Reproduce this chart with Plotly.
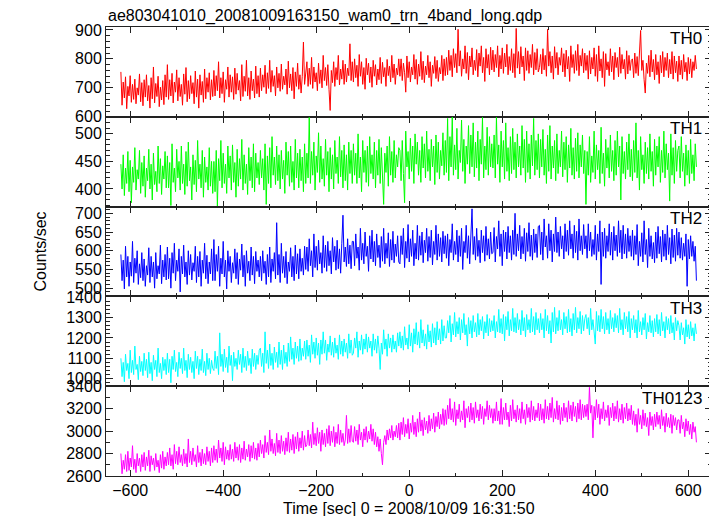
import numpy as np
import plotly.graph_objects as go

title = "ae803041010_20081009163150_wam0_trn_4band_long.qdp"
x_title = "Time [sec] 0 = 2008/10/09 16:31:50"
y_title = "Counts/sec"
band_names = ["TH0", "TH1", "TH2", "TH3", "TH0123"]
band_colors = ["#ff0000", "#00ff00", "#0000ff", "#00ffff", "#ff00ff"]
time_start, time_step = -620, 2.5

th0 = [
    755, 640, 720, 665, 738, 628, 705, 672, 742, 650, 712, 660, 730, 645, 700, 675, 748, 652, 718, 638,
    728, 668, 745, 655, 708, 630, 735, 662, 772, 648, 715, 670, 740, 635, 702, 658, 725, 642, 745, 668,
    780, 660, 728, 672, 750, 648, 720, 685, 762, 655, 735, 670, 712, 640, 748, 678, 770, 652, 725, 662,
    742, 680, 718, 645, 758, 668, 730, 630, 745, 675, 722, 650, 765, 662, 735, 685, 752, 658, 728, 670,
    760, 672, 742, 690, 790, 665, 735, 680, 755, 650, 728, 695, 772, 668, 745, 685, 738, 660, 768, 678,
    750, 692, 725, 655, 780, 670, 740, 688, 795, 672, 735, 660, 758, 690, 730, 665, 775, 680, 742, 668,
    768, 690, 745, 702, 778, 680, 752, 698, 795, 685, 760, 705, 742, 672, 772, 700, 750, 688, 782, 695,
    740, 710, 765, 678, 792, 700, 748, 690, 770, 662, 755, 705, 785, 695, 745, 682, 740, 858, 712, 768,
    790, 705, 768, 712, 805, 698, 772, 720, 752, 690, 785, 715, 762, 700, 812, 725, 770, 708, 780, 695,
    622, 760, 718, 790, 705, 770, 728, 812, 710, 765, 730, 795, 712, 782, 720, 768, 742, 852, 725, 790,
    720, 800, 735, 778, 705, 815, 740, 790, 712, 770, 695, 802, 745, 785, 718, 772, 702, 795, 740, 780,
    710, 765, 728, 805, 715, 788, 738, 770, 705, 798, 742, 775, 720, 812, 735, 782, 712, 768, 745, 800,
    740, 800, 725, 785, 752, 685, 810, 735, 790, 720, 772, 745, 815, 730, 798, 712, 782, 740, 825, 728,
    792, 718, 775, 745, 812, 735, 790, 705, 778, 750, 808, 732, 795, 722, 770, 748, 812, 725, 800, 742,
    805, 745, 830, 760, 812, 738, 835, 770, 818, 752, 902, 775, 828, 740, 800, 765, 845, 750, 822, 728,
    810, 772, 838, 745, 795, 760, 832, 738, 820, 775, 845, 752, 805, 722, 835, 768, 815, 745, 840, 762,
    830, 755, 815, 770, 845, 738, 812, 765, 838, 750, 820, 772, 850, 745, 808, 760, 835, 752, 818, 735,
    905, 768, 825, 748, 842, 772, 810, 725, 838, 760, 828, 750, 815, 770, 850, 745, 822, 762, 835, 755,
    770, 815, 748, 835, 762, 812, 740, 902, 775, 825, 752, 810, 730, 842, 768, 822, 745, 805, 778, 838,
    755, 818, 738, 830, 765, 808, 722, 845, 770, 815, 750, 828, 760, 850, 742, 812, 775, 835, 752, 820,
    760, 812, 730, 828, 748, 805, 765, 838, 740, 815, 722, 845, 758, 800, 735, 825, 705, 818, 762, 790,
    742, 835, 755, 810, 728, 822, 770, 805, 738, 840, 750, 815, 765, 798, 730, 828, 748, 812, 760, 795,
    800, 735, 820, 750, 808, 742, 825, 898, 760, 795, 728, 682, 785, 750, 812, 738, 830, 755, 798, 728,
    815, 745, 790, 715, 812, 752, 825, 738, 805, 760, 820, 735, 798, 748, 825, 730, 810, 752, 792, 722,
    810, 745, 795, 730, 815, 755, 788, 725, 805, 748, 800, 735, 790, 760, 812, 765,
]

th1 = [
    445, 400, 462, 388, 438, 410, 468, 395, 452, 375, 440, 412, 475, 398, 435, 418, 470, 392, 448, 405,
    460, 385, 438, 415, 472, 400, 445, 380, 465, 408, 432, 395, 478, 410, 455, 390, 442, 418, 468, 402,
    460, 402, 448, 370, 482, 412, 438, 395, 472, 420, 450, 398, 478, 410, 445, 390, 468, 405, 485, 415,
    440, 380, 462, 408, 452, 395, 488, 418, 445, 402, 470, 385, 458, 412, 440, 398, 475, 405, 450, 392,
    450, 395, 470, 368, 455, 415, 488, 402, 465, 410, 445, 392, 478, 420, 460, 398, 480, 412, 448, 385,
    472, 405, 455, 418, 490, 398, 462, 410, 445, 390, 475, 415, 458, 402, 482, 395, 465, 420, 448, 408,
    470, 420, 455, 398, 482, 372, 460, 410, 475, 402, 495, 425, 458, 408, 478, 415, 462, 400, 470, 418,
    452, 392, 485, 425, 468, 405, 478, 412, 450, 398, 490, 420, 465, 402, 472, 415, 458, 395, 482, 410,
    465, 420, 530, 410, 468, 425, 485, 398, 460, 430, 502, 412, 478, 418, 455, 405, 490, 425, 468, 395,
    475, 418, 462, 400, 488, 428, 458, 410, 495, 422, 470, 402, 480, 415, 462, 398, 485, 428, 470, 410,
    482, 425, 465, 410, 500, 420, 458, 395, 488, 430, 470, 412, 478, 405, 495, 428, 462, 418, 485, 402,
    470, 425, 490, 410, 475, 420, 372, 465, 430, 478, 405, 495, 425, 468, 412, 488, 420, 462, 440, 475,
    470, 415, 488, 428, 375, 505, 440, 468, 418, 492, 432, 478, 410, 500, 445, 485, 425, 470, 412, 495,
    438, 482, 420, 505, 432, 472, 415, 490, 440, 478, 408, 498, 430, 485, 418, 470, 442, 502, 425, 488,
    430, 528, 415, 495, 440, 531, 425, 480, 435, 510, 418, 470, 448, 525, 432, 490, 410, 478, 445, 515,
    428, 498, 440, 520, 422, 485, 438, 505, 415, 490, 445, 530, 420, 478, 435, 512, 425, 495, 440, 482,
    438, 498, 420, 530, 445, 480, 412, 505, 440, 488, 418, 520, 432, 475, 415, 495, 428, 510, 435, 485,
    420, 500, 440, 478, 425, 515, 438, 490, 412, 505, 430, 482, 418, 498, 442, 528, 425, 488, 435, 500,
    420, 490, 440, 508, 425, 472, 410, 498, 432, 515, 418, 478, 438, 488, 415, 500, 428, 470, 440, 505,
    422, 485, 435, 495, 412, 480, 438, 510, 425, 475, 418, 492, 432, 502, 420, 480, 440, 498, 428, 470,
    372, 468, 425, 495, 412, 460, 430, 505, 418, 480, 435, 470, 410, 512, 428, 465, 405, 490, 438, 475,
    420, 498, 432, 470, 415, 488, 425, 505, 440, 478, 380, 495, 428, 468, 418, 485, 435, 500, 422, 472,
    415, 488, 430, 520, 420, 470, 398, 495, 435, 462, 410, 485, 428, 475, 418, 500, 432, 468, 405, 490,
    425, 478, 440, 495, 412, 470, 430, 505, 420, 482, 435, 465, 378, 500, 425, 475, 410, 488, 432, 470,
    478, 420, 495, 432, 465, 405, 480, 425, 470, 410, 490, 428, 462, 415, 482, 440,
]

th2 = [
    590, 520, 575, 498, 612, 530, 585, 505, 570, 532, 625, 515, 580, 540, 600, 510, 565, 528, 595, 520,
    578, 505, 560, 535, 608, 515, 585, 530, 570, 500, 595, 525, 560, 538, 615, 512, 575, 530, 590, 522,
    610, 525, 580, 500, 595, 540, 620, 520, 575, 545, 605, 490, 585, 538, 615, 530, 570, 510, 600, 535,
    590, 522, 568, 545, 612, 515, 585, 530, 598, 505, 575, 540, 620, 525, 588, 512, 570, 538, 605, 520,
    630, 520, 590, 545, 612, 505, 580, 538, 625, 530, 575, 498, 600, 545, 585, 515, 568, 540, 605, 525,
    595, 510, 578, 548, 618, 530, 588, 505, 600, 540, 572, 520, 610, 535, 585, 512, 598, 545, 575, 530,
    585, 520, 600, 540, 572, 510, 590, 530, 610, 515, 578, 545, 595, 525, 675, 535, 590, 515, 620, 540,
    585, 528, 598, 512, 570, 545, 608, 530, 585, 520, 615, 538, 592, 525, 605, 545, 580, 535, 612, 550,
    610, 545, 632, 560, 600, 530, 645, 555, 612, 548, 628, 565, 595, 540, 640, 555, 615, 545, 625, 560,
    600, 538, 635, 570, 612, 548, 628, 552, 605, 540, 620, 695, 570, 610, 558, 632, 565, 615, 552, 625,
    625, 560, 645, 580, 610, 548, 660, 575, 620, 565, 650, 585, 612, 545, 640, 578, 655, 570, 625, 560,
    645, 582, 615, 555, 638, 572, 660, 565, 620, 580, 648, 558, 630, 575, 652, 568, 618, 585, 640, 570,
    565, 640, 590, 660, 555, 625, 580, 670, 570, 632, 585, 655, 560, 620, 578, 668, 575, 640, 588, 650,
    568, 628, 595, 660, 572, 638, 582, 655, 562, 625, 590, 668, 575, 645, 585, 635, 570, 652, 592, 640,
    580, 645, 560, 630, 595, 672, 575, 625, 590, 655, 570, 640, 585, 660, 550, 625, 595, 668, 580, 640,
    565, 652, 712, 590, 638, 575, 660, 585, 628, 568, 655, 595, 640, 572, 665, 588, 632, 578, 650, 592,
    595, 662, 570, 638, 605, 680, 585, 645, 560, 655, 598, 650, 578, 665, 595, 640, 575, 655, 590, 700,
    585, 645, 600, 668, 578, 638, 592, 660, 572, 648, 598, 675, 585, 642, 575, 658, 595, 645, 582, 665,
    668, 590, 650, 575, 685, 610, 640, 580, 672, 600, 655, 570, 645, 598, 690, 595, 650, 585, 665, 605,
    640, 578, 672, 598, 655, 588, 680, 605, 645, 580, 668, 595, 652, 575, 685, 600, 640, 590, 670, 605,
    640, 580, 672, 600, 650, 585, 630, 590, 668, 575, 645, 598, 680, 510, 650, 585, 660, 580, 640, 598,
    672, 588, 650, 575, 665, 600, 642, 585, 680, 595, 655, 578, 668, 592, 645, 580, 660, 598, 640, 585,
    655, 575, 640, 590, 670, 560, 625, 585, 648, 570, 680, 590, 630, 555, 660, 585, 640, 578, 622, 568,
    650, 580, 665, 592, 638, 570, 655, 585, 645, 575, 668, 590, 635, 565, 658, 582, 642, 572, 660, 588,
    650, 580, 635, 575, 620, 585, 645, 505, 630, 578, 640, 585, 625, 572, 612, 520,
]

th3 = [
    1100, 1010, 1080, 985, 1120, 1040, 1075, 1000, 1140, 1030, 1090, 1020, 1160, 1045, 1070, 995, 1110, 1035, 1085, 1015,
    1125, 1040, 1095, 1005, 1130, 1025, 1080, 990, 1115, 1045, 1090, 1010, 1150, 1030, 1075, 1000, 1105, 1040, 1095, 1020,
    1125, 1030, 1095, 980, 1110, 1045, 1140, 1035, 1080, 1010, 1130, 1050, 1100, 1025, 1150, 1040, 1090, 1005, 1120, 1045,
    1105, 1030, 1085, 1000, 1135, 1050, 1110, 1020, 1095, 1040, 1145, 1030, 1085, 1015, 1125, 1045, 1100, 1025, 1090, 1050,
    1040, 1135, 1050, 1110, 1020, 1225, 1060, 1120, 1035, 1145, 1055, 1105, 1030, 1160, 1065, 1115, 990, 1130, 1060, 1100,
    1045, 1140, 1070, 1120, 1030, 1150, 1055, 1110, 1040, 1135, 1065, 1100, 1025, 1145, 1060, 1125, 1045, 1115, 1070, 1140,
    1150, 1060, 1125, 1030, 1230, 1075, 1140, 1050, 1170, 1065, 1125, 1045, 1155, 1080, 1130, 1055, 1180, 1070, 1140, 1045,
    1165, 1075, 1130, 1060, 1175, 1085, 1205, 1095, 1150, 1070, 1180, 1100, 1160, 1085, 1195, 1090, 1150, 1110, 1185, 1095,
    1190, 1110, 1165, 1080, 1215, 1120, 1180, 1100, 1200, 1115, 1175, 1070, 1190, 1120, 1230, 1125, 1190, 1090, 1170, 1130,
    1210, 1115, 1180, 1105, 1200, 1125, 1165, 1095, 1215, 1120, 1185, 1110, 1195, 1130, 1175, 1100, 1220, 1125, 1190, 1115,
    1125, 1200, 1150, 1230, 1105, 1185, 1140, 1215, 1120, 1195, 1145, 1220, 1130, 1205, 1150, 1185, 1110, 1220, 1140, 1195,
    1125, 1210, 1150, 1045, 1175, 1120, 1240, 1145, 1195, 1110, 1220, 1150, 1200, 1130, 1215, 1145, 1185, 1130, 1225, 1160,
    1230, 1150, 1210, 1140, 1255, 1165, 1200, 1145, 1265, 1160, 1225, 1130, 1245, 1170, 1275, 1165, 1230, 1150, 1290, 1175,
    1240, 1160, 1220, 1145, 1265, 1180, 1235, 1155, 1270, 1175, 1250, 1165, 1280, 1190, 1245, 1170, 1290, 1185, 1260, 1200,
    1200, 1285, 1225, 1310, 1180, 1270, 1215, 1325, 1205, 1280, 1220, 1300, 1190, 1290, 1225, 1320, 1215, 1265, 1160, 1300,
    1220, 1285, 1200, 1310, 1230, 1275, 1205, 1320, 1215, 1290, 1235, 1305, 1195, 1280, 1225, 1315, 1210, 1295, 1230, 1285,
    1235, 1310, 1200, 1280, 1230, 1340, 1225, 1295, 1220, 1315, 1185, 1305, 1240, 1330, 1210, 1290, 1235, 1345, 1230, 1300,
    1225, 1320, 1240, 1290, 1215, 1335, 1235, 1300, 1205, 1315, 1240, 1290, 1225, 1345, 1230, 1305, 1215, 1325, 1240, 1295,
    1225, 1320, 1240, 1295, 1200, 1340, 1235, 1310, 1220, 1285, 1175, 1325, 1230, 1350, 1220, 1300, 1235, 1335, 1240, 1290,
    1215, 1325, 1245, 1305, 1225, 1340, 1230, 1295, 1210, 1320, 1240, 1350, 1225, 1300, 1245, 1330, 1220, 1310, 1235, 1295,
    1315, 1245, 1300, 1215, 1345, 1240, 1290, 1225, 1170, 1330, 1235, 1310, 1230, 1340, 1245, 1305, 1220, 1325, 1240, 1295,
    1220, 1335, 1245, 1300, 1230, 1320, 1250, 1310, 1225, 1345, 1240, 1290, 1215, 1325, 1245, 1305, 1230, 1330, 1200, 1295,
    1240, 1310, 1225, 1290, 1200, 1335, 1230, 1280, 1215, 1300, 1240, 1320, 1195, 1275, 1230, 1310, 1225, 1285, 1205, 1295,
    1230, 1315, 1220, 1290, 1210, 1325, 1235, 1280, 1200, 1305, 1240, 1295, 1220, 1310, 1225, 1275, 1190, 1300, 1235, 1285,
    1260, 1190, 1275, 1215, 1250, 1170, 1290, 1205, 1265, 1195, 1280, 1210, 1250, 1185, 1270, 1220,
]

th0123 = [
    2800, 2620, 2740, 2660, 2790, 2640, 2820, 2650, 2760, 2680, 2870, 2660, 2750, 2630, 2800, 2690, 2760, 2640, 2790, 2680,
    2810, 2650, 2770, 2690, 2830, 2640, 2780, 2700, 2760, 2650, 2800, 2680, 2740, 2630, 2790, 2670, 2820, 2660, 2770, 2690,
    2810, 2700, 2850, 2690, 2790, 2660, 2880, 2710, 2820, 2700, 2860, 2720, 2790, 2690, 2840, 2710, 2800, 2680, 2930, 2720,
    2820, 2700, 2850, 2730, 2790, 2680, 2870, 2720, 2810, 2690, 2840, 2710, 2800, 2700, 2860, 2730, 2820, 2690, 2850, 2720,
    2870, 2740, 2840, 2720, 2920, 2760, 2850, 2730, 2900, 2700, 2860, 2750, 2830, 2740, 2880, 2750, 2840, 2730, 2900, 2760,
    2860, 2740, 2880, 2720, 2850, 2750, 2910, 2740, 2840, 2770, 2880, 2730, 2870, 2760, 2900, 2750, 2850, 2740, 2890, 2770,
    2920, 2800, 2880, 2760, 2960, 2810, 2900, 2790, 3010, 2820, 2930, 2800, 2890, 2780, 2980, 2810, 2920, 2800, 2960, 2820,
    2910, 2790, 2940, 2820, 2990, 2810, 2930, 2830, 2970, 2800, 2950, 2840, 2990, 2820, 2940, 2850, 3000, 2830, 2960, 2860,
    2880, 3010, 2870, 2970, 2850, 3080, 2880, 2980, 2870, 3030, 2890, 2990, 2820, 3010, 2880, 2980, 2860, 3020, 2890, 3050,
    2870, 3000, 2900, 3040, 2860, 2990, 2890, 3060, 2880, 3010, 2900, 2980, 2870, 2920, 3140, 2890, 3020, 2900, 3050, 2910,
    2900, 3040, 2910, 3010, 2880, 3060, 2920, 2990, 2860, 3020, 2920, 3040, 2900, 3000, 2930, 3060, 2910, 3020, 2880, 2990,
    2860, 2950, 2820, 2930, 2800, 2700, 2900, 2960, 2880, 3010, 2920, 3020, 2940, 3050, 2920, 3000, 2950, 3050, 2940, 3070,
    2920, 3080, 2970, 3120, 2950, 3060, 2980, 3110, 2930, 3070, 2990, 3140, 2970, 3080, 2950, 3110, 2990, 3170, 3000, 3100,
    2960, 3120, 3010, 3090, 2980, 3140, 3000, 3110, 3020, 3160, 2990, 3130, 3040, 3170, 3020, 3150, 3060, 3200, 3050, 3190,
    3060, 3230, 3110, 3290, 3100, 3200, 3080, 3260, 3050, 3190, 3110, 3240, 3080, 3180, 3100, 3270, 3030, 3200, 3120, 3220,
    3080, 3250, 3100, 3210, 3070, 3260, 3120, 3190, 3090, 3240, 3110, 3220, 3060, 3200, 3130, 3270, 3100, 3230, 3120, 3200,
    3070, 3200, 3090, 3260, 3090, 3180, 3060, 3290, 3060, 3210, 3100, 3250, 3100, 3170, 3040, 3230, 3090, 3280, 3110, 3190,
    3080, 3230, 3100, 3200, 3070, 3260, 3110, 3190, 3060, 3240, 3120, 3210, 3080, 3270, 3100, 3220, 3090, 3190, 3120, 3250,
    3090, 3240, 3100, 3200, 3070, 3280, 3110, 3220, 3100, 3250, 3120, 3300, 3080, 3200, 3110, 3270, 3100, 3230, 3060, 3210,
    3090, 3250, 3120, 3210, 3080, 3270, 3110, 3230, 3090, 3260, 3130, 3220, 3080, 3250, 3110, 3280, 3100, 3240, 3120, 3230,
    3130, 3240, 3100, 3390, 3160, 3230, 2940, 3220, 3100, 3280, 3120, 3240, 3060, 3200, 3110, 3260, 3090, 3190, 3120, 3230,
    3050, 3210, 3120, 3250, 3090, 3220, 3110, 3270, 3080, 3200, 3100, 3240, 3070, 3210, 3110, 3250, 3090, 3200, 3100, 3230,
    3060, 3180, 3050, 3150, 2990, 3200, 3060, 3140, 3020, 3190, 3050, 3160, 3040, 3120, 2960, 3170, 3050, 3130, 3010, 3150,
    3040, 3170, 3060, 3140, 3020, 3190, 3050, 3130, 2990, 3160, 3040, 3120, 3030, 3150, 2980, 3140, 3050, 3120, 3010, 3100,
    3100, 2980, 3140, 3020, 3080, 2950, 3110, 3000, 3090, 2970, 3060, 2930, 3080, 2990, 3040, 2900,
]

y_ranges = [[600, 910], [368, 531], [478, 718], [963, 1404], [2600, 3400]]
y_dticks = [100, 50, 50, 100, 200]
y_minor = [20, 10, 10, 20, 100]
x_range = [-652, 651]

series = [th0, th1, th2, th3, th0123]

FONT = "Liberation Sans, Arial, Helvetica, sans-serif"
fig = go.Figure()
n = len(series)
for i, (vals, name, col) in enumerate(zip(series, band_names, band_colors)):
    k = i + 1
    time = time_start + time_step * np.arange(len(vals))
    fig.add_trace(go.Scatter(
        x=time, y=vals, mode="lines", name=name,
        line=dict(color=col, width=1),
        xaxis="x" if k == 1 else f"x{k}", yaxis="y" if k == 1 else f"y{k}",
        showlegend=False,
    ))
    top = 1 - i / n
    bot = 1 - (i + 1) / n
    xa = dict(
        domain=[0, 1], anchor="y" if k == 1 else f"y{k}", range=x_range,
        tick0=0, dtick=200, ticks="inside", ticklen=6, tickwidth=1, tickcolor="#222",
        minor=dict(dtick=100, ticks="inside", ticklen=3, tickcolor="#222"),
        showline=True, linecolor="#222", linewidth=1, mirror="ticks",
        showgrid=False, zeroline=False, showticklabels=(k == n),
        tickfont=dict(family=FONT, size=16, color="black"),
    )
    if k > 1:
        xa["matches"] = "x"
    ya = dict(
        domain=[bot, top], anchor="x" if k == 1 else f"x{k}", range=y_ranges[i],
        tick0=0, dtick=y_dticks[i], ticks="inside", ticklen=7, tickwidth=1, tickcolor="#222",
        minor=dict(dtick=y_minor[i], ticks="inside", ticklen=4, tickcolor="#222"),
        showline=True, linecolor="#222", linewidth=1, mirror="ticks",
        showgrid=False, zeroline=False,
        tickfont=dict(family=FONT, size=16, color="black"),
    )
    fig.layout["xaxis" if k == 1 else f"xaxis{k}"] = xa
    fig.layout["yaxis" if k == 1 else f"yaxis{k}"] = ya
    fig.add_annotation(
        text=name, xref="paper", yref="paper", x=0.987, y=top - 0.001,
        xanchor="right", yanchor="top", showarrow=False,
        font=dict(family=FONT, size=17, color="black"),
    )

fig.add_annotation(text=title, xref="paper", yref="paper", x=0.0, y=1.0, yshift=0,
                   xanchor="left", yanchor="bottom", showarrow=False,
                   font=dict(family=FONT, size=16, color="black"))
fig.add_annotation(text=x_title, xref="paper", yref="paper", x=0.5, y=0, yshift=-22,
                   xanchor="center", yanchor="top", showarrow=False,
                   font=dict(family=FONT, size=16, color="black"))
fig.add_annotation(text=y_title, xref="paper", yref="paper", x=0, xshift=-66, y=0.5,
                   xanchor="center", yanchor="middle", textangle=-90, showarrow=False,
                   font=dict(family=FONT, size=16, color="black"))

# page body has an 8px margin: size the figure to fill the 717x516 viewport
fig.update_layout(
    width=709, height=508,
    margin=dict(l=98, r=5, t=19, b=40),
    plot_bgcolor="white", paper_bgcolor="white",
    font=dict(family=FONT, size=16, color="black"),
)
fig.write_html("out.html")
